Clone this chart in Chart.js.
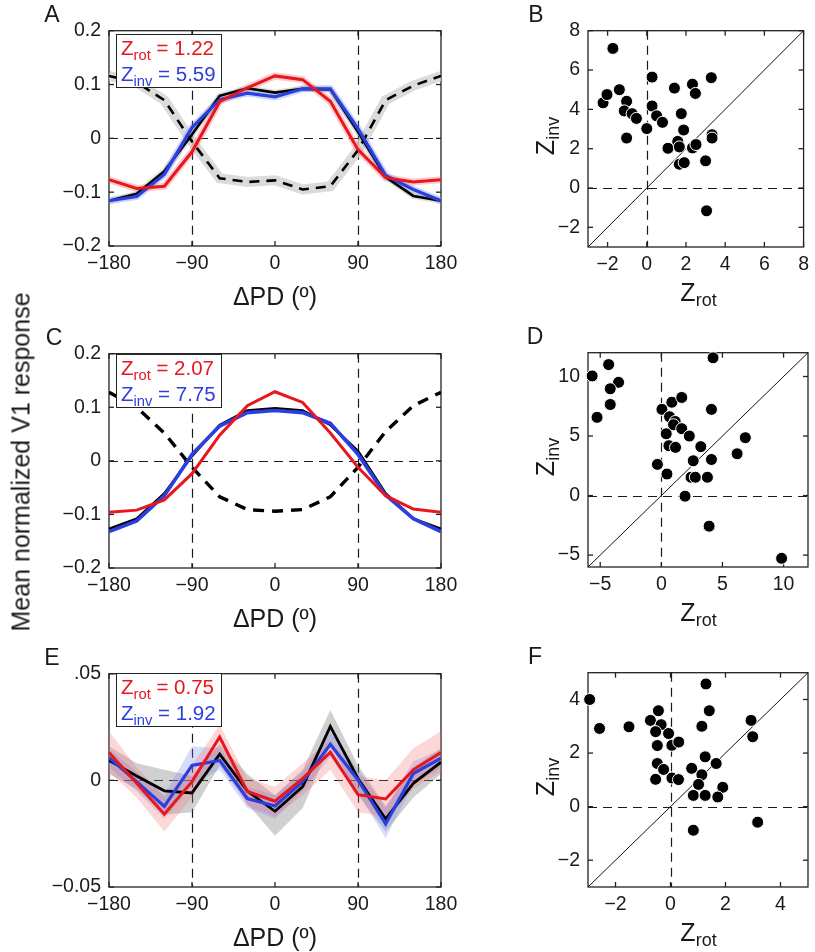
<!DOCTYPE html>
<html>
<head>
<meta charset="utf-8">
<script src="https://cdn.jsdelivr.net/npm/chart.js@4.4.1/dist/chart.umd.min.js"></script>
<style>
  html, body { margin: 0; padding: 0; background: #fff; overflow: hidden; }
  #fig { position: relative; width: 815px; height: 952px; font-family: "Liberation Sans", Arial, sans-serif; color: #1a1a1a; }
  canvas { position: absolute; }
  .txt { position: absolute; white-space: nowrap; line-height: 1; transform: translate(-50%, -50%); }
  .rot { transform: translate(-50%, -50%) rotate(-90deg); }
  .letra { font-size: 23px; }
  .titulo { font-size: 25px; }
  .ylabel { font-size: 25px; }
  sub { font-size: 0.72em; vertical-align: -0.32em; line-height: 0; }
  .leg { position: absolute; border: 1.3px solid #222; background: #fff; font-size: 20.5px; line-height: 26px;
         padding: 0 4px; box-sizing: border-box; width: 106px; height: 54px; white-space: nowrap; }
  .vermelho { color: #e8161d; }
  .azul { color: #2b3fe0; }
</style>
</head>
<body>
<div id="fig"></div>
<script>
// ---- dados ----
const angulos = [-180, -150, -120, -90, -60, -30, 0, 30, 60, 90, 120, 150, 180];
const ticksAngulo = [-180, -90, 0, 90, 180];
const rotulosAngulo = ["\u2212180", "\u221290", "0", "90", "180"];
const ticksResp = [-0.2, -0.1, 0, 0.1, 0.2];
const rotulosResp = ["\u22120.2", "\u22120.1", "0", "0.1", "0.2"];
const ticksRespE = [-0.05, 0, 0.05];
const rotulosRespE = ["\u22120.05", "0", ".05"];

// painel A
const aPreto = [-0.116, -0.103, -0.061, 0.007, 0.079, 0.093, 0.085, 0.092, 0.091, 0.012, -0.072, -0.107, -0.116];
const aAzul = [-0.116, -0.108, -0.067, 0.020, 0.072, 0.084, 0.077, 0.092, 0.092, 0.018, -0.069, -0.095, -0.116];
const aVermelho = [-0.077, -0.093, -0.089, -0.025, 0.068, 0.094, 0.116, 0.109, 0.069, -0.021, -0.073, -0.081, -0.077];
const aTracejado = [0.116, 0.104, 0.071, -0.006, -0.074, -0.081, -0.078, -0.095, -0.089, -0.022, 0.071, 0.098, 0.116];

// painel C
const cPreto = [-0.127, -0.108, -0.061, 0.009, 0.067, 0.094, 0.098, 0.094, 0.067, 0.018, -0.061, -0.108, -0.127];
const cAzul = [-0.132, -0.112, -0.065, 0.012, 0.065, 0.090, 0.094, 0.090, 0.070, 0.012, -0.064, -0.108, -0.132];
const cVermelho = [-0.096, -0.092, -0.073, -0.024, 0.048, 0.103, 0.129, 0.109, 0.052, -0.012, -0.065, -0.090, -0.096];
const cTracejado = [0.128, 0.100, 0.052, -0.012, -0.067, -0.091, -0.094, -0.091, -0.067, -0.012, 0.055, 0.103, 0.128];

// painel E (media e limites da faixa)
const ePreto = [0.0093, 0.0020, -0.0049, -0.0059, 0.0123, -0.0050, -0.0145, -0.0029, 0.0253, 0.0009, -0.0181, -0.0014, 0.0085];
const eAzul = [0.0106, -0.0006, -0.0122, 0.0070, 0.0093, -0.0085, -0.0120, -0.0006, 0.0169, 0.0002, -0.0204, 0.0032, 0.0104];
const eVermelho = [0.0130, -0.0014, -0.0159, -0.0006, 0.0203, -0.0052, -0.0098, 0.0009, 0.0131, -0.0067, -0.0087, 0.0050, 0.0131];
const ePretoSup = [0.016, 0.008, 0.005, 0.002, 0.017, 0.003, -0.007, 0.005, 0.033, 0.007, -0.012, 0.006, 0.015];
const ePretoInf = [0.003, -0.004, -0.016, -0.015, 0.007, -0.011, -0.026, -0.013, 0.017, -0.007, -0.024, -0.008, 0.003];
const eAzulSup = [0.0145, 0.004, -0.007, 0.016, 0.015, -0.003, -0.007, 0.004, 0.023, 0.005, -0.013, 0.009, 0.0145];
const eAzulInf = [0.006, -0.005, -0.018, -0.002, 0.005, -0.013, -0.018, -0.005, 0.011, -0.006, -0.027, -0.002, 0.006];
const eVermelhoSup = [0.023, 0.006, -0.008, 0.007, 0.026, 0.001, -0.003, 0.008, 0.019, 0.002, 0.000, 0.015, 0.023];
const eVermelhoInf = [0.004, -0.008, -0.024, -0.008, 0.014, -0.012, -0.017, -0.007, 0.005, -0.015, -0.017, -0.004, 0.004];

// dispersoes
const bRot = [-1.73, -2.23, -2.03, -1.40, -1.03, -1.15, -1.03, -0.75, -0.53, 0.00, 0.27, 0.27, 0.50, 0.80, 1.08, 1.41, 1.58, 1.66, 1.76, 1.88, 1.66, 1.91, 2.33, 2.48, 2.33, 2.51, 3.00, 3.29, 3.33, 3.33, 3.05];
const bInv = [7.10, 4.33, 4.75, 5.00, 4.41, 3.92, 2.54, 3.78, 3.54, 3.02, 5.64, 4.17, 3.67, 3.34, 2.02, 5.08, 2.37, 2.09, 3.78, 2.95, 1.21, 1.29, 5.28, 4.81, 2.04, 2.21, 1.38, 5.61, 2.71, 2.54, -1.16];
const dRot = [-5.66, -4.31, -3.50, -4.18, -4.18, -5.26, 4.23, 0.05, 0.86, 1.67, 0.67, 1.13, 1.00, 1.67, 0.40, 2.29, 0.62, 1.16, 3.23, -0.32, 0.46, 2.61, 2.43, 2.78, 3.77, 1.94, 4.10, 4.10, 3.91, 6.20, 6.87, 9.84];
const dInv = [10.05, 11.00, 9.51, 8.97, 7.65, 6.57, 11.57, 7.24, 7.84, 8.24, 6.62, 6.22, 5.95, 5.62, 5.19, 5.00, 4.19, 4.05, 4.11, 2.62, 1.81, 2.92, 1.54, 1.54, 1.54, -0.05, 7.24, 3.03, -2.57, 3.51, 4.86, -5.27];
const fRot = [-2.94, -2.58, -1.51, -0.73, -0.44, -0.34, -0.54, -0.07, -0.48, 0.05, 0.30, -0.48, -0.25, -0.54, 0.05, 0.29, 1.29, 1.41, 1.14, 2.93, 2.99, 1.26, 1.66, 0.77, 1.14, 1.02, 1.90, 0.83, 1.26, 1.72, 0.83, 3.17];
const fInv = [4.00, 2.92, 2.98, 3.22, 3.58, 3.06, 2.80, 2.73, 2.28, 2.29, 2.41, 1.61, 1.39, 1.02, 1.07, 1.01, 4.58, 3.58, 3.00, 3.22, 2.61, 1.86, 1.61, 1.43, 1.19, 0.83, 0.72, 0.42, 0.42, 0.36, -0.88, -0.58];

const limitesB = [-3, 8], ticksB = [-2, 0, 2, 4, 6, 8];
const limitesD = [-6, 12], ticksD = [-5, 0, 5, 10];
const limitesF = [-3, 5], ticksF = [-2, 0, 2, 4];

// ---- estilo ----
const VERMELHO = "#e8161d", AZUL = "#2b3fe0", PRETO = "#000000";
Chart.defaults.font.family = "'Liberation Sans', Arial, sans-serif";
Chart.defaults.font.size = 19.5;
Chart.defaults.color = "#1a1a1a";
Chart.defaults.animation = false;
Chart.defaults.devicePixelRatio = 1;

const ESQ = 80, TOPO = 14, BAIXO = 40;
const fig = document.getElementById("fig");

const areas = {
    A: { l: 109, t: 25, r: 441, b: 246 },
    C: { l: 109, t: 348, r: 441, b: 568 },
    E: { l: 109, t: 668, r: 441, b: 887 },
    B: { l: 588, t: 25, r: 809, b: 247 },
    D: { l: 588, t: 347, r: 809, b: 567 },
    F: { l: 588, t: 667, r: 809, b: 887 }
};

function criarCanvas(area, dir) {
    const c = document.createElement("canvas");
    const largura = area.r - area.l + ESQ + dir;
    const altura = area.b - area.t + TOPO + BAIXO;
    c.width = largura;
    c.height = altura;
    c.style.width = largura + "px";
    c.style.height = altura + "px";
    c.style.left = (area.l - ESQ) + "px";
    c.style.top = (area.t - TOPO) + "px";
    fig.appendChild(c);
    return c;
}

function eixo(limites, valores, rotulos, tipo) {
    return {
        type: "linear",
        min: limites[0],
        max: limites[1],
        grid: { display: false, drawTicks: false },
        border: { display: false },
        ticks: {
            padding: tipo === "x" ? 6 : 8,
            autoSkip: false,
            maxRotation: 0,
            color: "#1a1a1a",
            callback: (v, i) => rotulos[i]
        },
        afterBuildTicks: s => { s.ticks = valores.map(v => ({ value: v })); },
        afterFit: s => {
            if (tipo === "x") s.height = BAIXO;
            else s.width = ESQ;
        }
    };
}

function linha(ctx, x1, y1, x2, y2) {
    ctx.beginPath();
    ctx.moveTo(x1, y1);
    ctx.lineTo(x2, y2);
    ctx.stroke();
}

// moldura, marcas internas e linhas tracejadas de referencia
const moldura = {
    id: "moldura",
    beforeDatasetsDraw(chart, args, opts) {
        const { ctx, chartArea: a, scales: { x, y } } = chart;
        ctx.save();
        ctx.strokeStyle = "#1a1a1a";
        ctx.lineWidth = 1.2;
        ctx.setLineDash([9, 6]);
        (opts.refX || []).forEach(v => {
            const px = Math.round(x.getPixelForValue(v)) + 0.5;
            linha(ctx, px, a.top, px, a.bottom);
        });
        (opts.refY || []).forEach(v => {
            const py = Math.round(y.getPixelForValue(v)) + 0.5;
            linha(ctx, a.left, py, a.right, py);
        });
        ctx.setLineDash([]);
        ctx.strokeStyle = "#222";
        ctx.lineWidth = 1.3;
        ctx.strokeRect(a.left, a.top, a.right - a.left, a.bottom - a.top);
        const t = 5;
        x.ticks.forEach(tk => {
            const px = x.getPixelForValue(tk.value);
            linha(ctx, px, a.bottom, px, a.bottom - t);
            linha(ctx, px, a.top, px, a.top + t);
        });
        y.ticks.forEach(tk => {
            const py = y.getPixelForValue(tk.value);
            linha(ctx, a.left, py, a.left + t, py);
            linha(ctx, a.right, py, a.right - t, py);
        });
        ctx.restore();
    }
};

function pontos(valores) {
    return angulos.map((a, i) => ({ x: a, y: valores[i] }));
}

function serie(valores, cor, largura, ordem, extra) {
    return Object.assign({
        data: pontos(valores),
        borderColor: cor,
        borderWidth: largura,
        pointRadius: 0,
        tension: 0,
        fill: false,
        order: ordem
    }, extra || {});
}

function faixa(sup, inf, cor, ordem) {
    return [
        { data: pontos(sup), borderWidth: 0, pointRadius: 0, fill: false, order: ordem },
        { data: pontos(inf), borderWidth: 0, pointRadius: 0, fill: "-1", backgroundColor: cor, order: ordem }
    ];
}

function painelLinhas(area, limY, ticksY, rotY, datasets) {
    new Chart(criarCanvas(area, 24), {
        type: "line",
        data: { datasets: datasets },
        options: {
            responsive: false,
            layout: { padding: { top: TOPO, right: 24, left: 0, bottom: 0 } },
            plugins: {
                legend: { display: false },
                tooltip: { enabled: false },
                moldura: { refX: [-90, 90], refY: [0] }
            },
            scales: {
                x: eixo([-180, 180], ticksAngulo, rotulosAngulo, "x"),
                y: eixo(limY, ticksY, rotY, "y")
            }
        },
        plugins: [moldura]
    });
}

function painelDispersao(area, limites, ticks, xs, ys) {
    const rotulos = ticks.map(v => v < 0 ? "\u2212" + Math.abs(v) : String(v));
    new Chart(criarCanvas(area, 6), {
        type: "scatter",
        data: {
            datasets: [
                {
                    data: xs.map((v, i) => ({ x: v, y: ys[i] })),
                    pointRadius: 6,
                    backgroundColor: PRETO,
                    borderColor: "#ffffff",
                    borderWidth: 1,
                    clip: false,
                    order: 1
                },
                {
                    data: limites.map(v => ({ x: v, y: v })),
                    showLine: true,
                    borderColor: "#111",
                    borderWidth: 1,
                    pointRadius: 0,
                    order: 2
                }
            ]
        },
        options: {
            responsive: false,
            layout: { padding: { top: TOPO, right: 6, left: 0, bottom: 0 } },
            plugins: {
                legend: { display: false },
                tooltip: { enabled: false },
                moldura: { refX: [0], refY: [0] }
            },
            scales: {
                x: eixo(limites, ticks, rotulos, "x"),
                y: eixo(limites, ticks, rotulos, "y")
            }
        },
        plugins: [moldura]
    });
}

// ---- paineis de curvas ----
painelLinhas(areas.A, [-0.2, 0.2], ticksResp, rotulosResp, [
    serie(aTracejado, "rgba(210,210,210,0.8)", 10, 9),
    serie(aPreto, "rgba(150,150,150,0.3)", 6, 8),
    serie(aAzul, "rgba(110,140,245,0.35)", 7, 8),
    serie(aVermelho, "rgba(245,110,110,0.35)", 7, 8),
    serie(aTracejado, PRETO, 2.6, 5, { borderDash: [10, 7] }),
    serie(aPreto, PRETO, 2.6, 4),
    serie(aAzul, AZUL, 3.2, 3),
    serie(aVermelho, VERMELHO, 3, 2)
]);

painelLinhas(areas.C, [-0.2, 0.2], ticksResp, rotulosResp, [
    serie(cTracejado, PRETO, 3.4, 5, { borderDash: [11, 8] }),
    serie(cPreto, PRETO, 2.6, 4),
    serie(cAzul, AZUL, 3.6, 3),
    serie(cVermelho, VERMELHO, 3, 2)
]);

painelLinhas(areas.E, [-0.05, 0.05], ticksRespE, rotulosRespE, [
    ...faixa(ePretoSup, ePretoInf, "rgba(120,120,120,0.35)", 12),
    ...faixa(eAzulSup, eAzulInf, "rgba(110,130,240,0.28)", 11),
    ...faixa(eVermelhoSup, eVermelhoInf, "rgba(240,110,110,0.28)", 10),
    serie(ePreto, PRETO, 2.8, 4),
    serie(eAzul, AZUL, 3.2, 3),
    serie(eVermelho, VERMELHO, 3, 2)
]);

// ---- dispersoes ----
painelDispersao(areas.B, limitesB, ticksB, bRot, bInv);
painelDispersao(areas.D, limitesD, ticksD, dRot, dInv);
painelDispersao(areas.F, limitesF, ticksF, fRot, fInv);

// ---- textos ----
function texto(html, x, y, classe) {
    const d = document.createElement("div");
    d.className = "txt " + classe;
    d.innerHTML = html;
    d.style.left = x + "px";
    d.style.top = y + "px";
    fig.appendChild(d);
}

function legenda(area, zRot, zInv, deslocamento) {
    const d = document.createElement("div");
    d.className = "leg";
    d.style.left = (area.l + 7) + "px";
    d.style.top = (area.t + deslocamento) + "px";
    d.innerHTML = '<div class="vermelho">Z<sub>rot</sub> = ' + zRot + '</div>' +
                  '<div class="azul">Z<sub>inv</sub> = ' + zInv + '</div>';
    fig.appendChild(d);
}

legenda(areas.A, "1.22", "5.59", 9);
legenda(areas.C, "2.07", "7.75", 6);
legenda(areas.E, "0.75", "1.92", 5);

[["A", areas.A, 52], ["C", areas.C, 54], ["E", areas.E, 52],
 ["B", areas.B, 536], ["D", areas.D, 535], ["F", areas.F, 535]].forEach(([letra, area, x]) => {
    texto(letra, x, area.t - 11, "letra");
});

[areas.A, areas.C, areas.E].forEach(area => {
    texto("\u0394PD (\u00ba)", (area.l + area.r) / 2, area.b + 50, "titulo");
});

[areas.B, areas.D, areas.F].forEach(area => {
    texto("Z<sub>rot</sub>", (area.l + area.r) / 2, area.b + 45, "titulo");
    texto("Z<sub>inv</sub>", 545, (area.t + area.b) / 2, "titulo rot");
});

texto("Mean normalized V1 response", 21, 462, "ylabel rot");
</script>
</body>
</html>
